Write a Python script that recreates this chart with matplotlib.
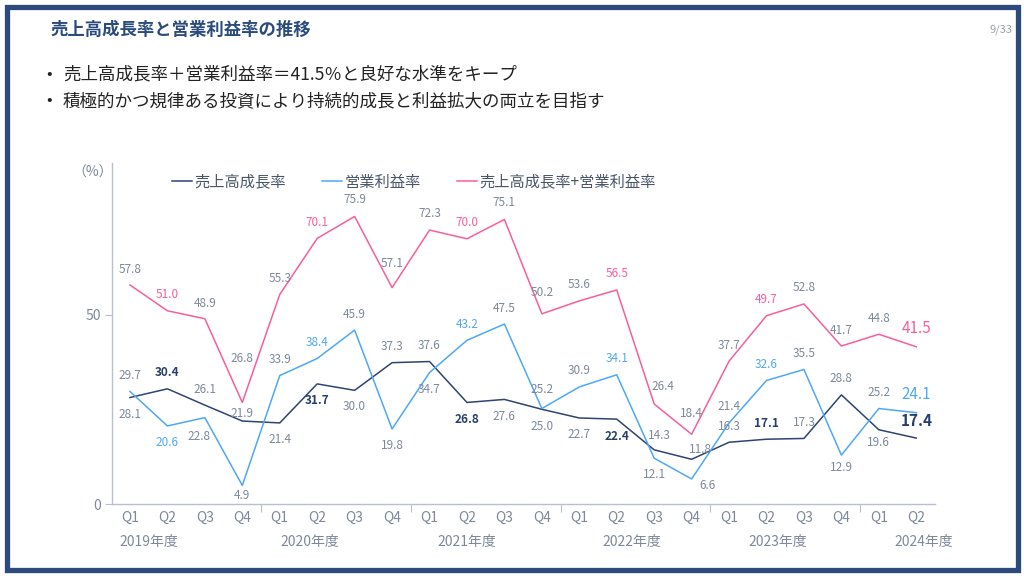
import matplotlib
matplotlib.use("Agg")
import matplotlib.pyplot as plt
from matplotlib.patches import Rectangle
from matplotlib.lines import Line2D
import matplotlib.transforms as mtransforms

plt.rcParams['font.family'] = ['Noto Sans CJK JP', 'DejaVu Sans']

# ---------------- data ----------------
quarters = ["Q1", "Q2", "Q3", "Q4",
            "Q1", "Q2", "Q3", "Q4",
            "Q1", "Q2", "Q3", "Q4",
            "Q1", "Q2", "Q3", "Q4",
            "Q1", "Q2", "Q3", "Q4",
            "Q1", "Q2"]
fiscal_years = ["2019年度", "2020年度", "2021年度", "2022年度", "2023年度", "2024年度"]
sales_growth = [28.1, 30.4, 26.1, 21.9, 21.4, 31.7, 30.0, 37.3, 37.6, 26.8, 27.6, 25.0,
                22.7, 22.4, 14.3, 11.8, 16.3, 17.1, 17.3, 28.8, 19.6, 17.4]
op_margin = [29.7, 20.6, 22.8, 4.9, 33.9, 38.4, 45.9, 19.8, 34.7, 43.2, 47.5, 25.2,
             30.9, 34.1, 12.1, 6.6, 21.4, 32.6, 35.5, 12.9, 25.2, 24.1]
total = [57.8, 51.0, 48.9, 26.8, 55.3, 70.1, 75.9, 57.1, 72.3, 70.0, 75.1, 50.2,
         53.6, 56.5, 26.4, 18.4, 37.7, 49.7, 52.8, 41.7, 44.8, 41.5]
series_names = ["売上高成長率", "営業利益率", "売上高成長率+営業利益率"]
title = "売上高成長率と営業利益率の推移"
bullets = ["売上高成長率＋営業利益率＝41.5％と良好な水準をキープ",
           "積極的かつ規律ある投資により持続的成長と利益拡大の両立を目指す"]

# ---------------- styles ----------------
C_NAVY = "#2e4472"
C_BLUE = "#4da8f7"
C_PINK = "#f75e9e"
C_GRAY = "#7d889a"
C_FRAME = "#2c4a7c"

# label offsets in pixels (dx, dy)
off_sales = [(0, -17), (0, 16), (0, 16), (0, 8), (0, -17), (0, -17), (0, -16), (0, 16),
             (0, 16), (0, -17), (0, -17), (0, -17), (0, -17), (0, -17), (5, 14), (9, 10),
             (0, 16), (0, 16), (0, 16), (0, 16), (0, -13), (0, 17)]
off_op = [(0, 16), (0, -17), (-6, -19), (0, -10), (0, 16), (0, 16), (0, 16), (0, -17),
          (0, -17), (0, 16), (0, 16), (0, 19), (0, 16), (0, 16), (0, -16), (16, -7),
          (0, 16), (0, 16), (0, 16), (0, -12), (0, 16), (0, 18)]
off_tot = [(0, 16), (0, 16), (0, 15), (0, 44), (0, 16), (0, 16), (0, 17), (0, 24),
           (0, 17), (0, 16), (0, 17), (0, 21), (0, 16), (0, 16), (9, 17), (0, 21),
           (0, 16), (0, 16), (0, 16), (0, 16), (0, 16), (0, 18)]
highlight = [1, 5, 9, 13, 17]

fig = plt.figure(figsize=(10.24, 5.76), dpi=100)
fig.patch.set_facecolor("white")

# frame
fig.patches.append(Rectangle((6.5 / 1024, 6.5 / 576), 1011 / 1024, 563 / 576,
                             transform=fig.transFigure, fill=False,
                             edgecolor=C_FRAME, linewidth=3.8, zorder=10))

fig.text(50 / 1024, 1 - 30 / 576, title, fontsize=12.5, fontweight="bold",
         color="#2b4b7d", ha="left", va="center")
fig.text(1012 / 1024, 1 - 30 / 576, "9/33", fontsize=8, color="#9aa1ab",
         ha="right", va="center")
for k, b in enumerate(bullets):
    yy = 1 - (74 + 27 * k) / 576
    fig.text(46 / 1024, yy, "•", fontsize=12, color="#222222", ha="left", va="center")
    fig.text(63 / 1024, yy, b, fontsize=12.6, color="#222222", ha="left", va="center")

ax = fig.add_axes([112 / 1024, (576 - 504) / 576, 823 / 1024, 341 / 576])
x = list(range(len(quarters)))
ax.plot(x, sales_growth, color=C_NAVY, lw=1.1)
ax.plot(x, op_margin, color=C_BLUE, lw=1.1)
ax.plot(x, total, color=C_PINK, lw=1.1)
ax.set_xlim(-0.48, 21.5)
ax.set_ylim(0, 90)

for s in ["top", "right"]:
    ax.spines[s].set_visible(False)
for s in ["left", "bottom"]:
    ax.spines[s].set_color("#b9c0cc")
    ax.spines[s].set_linewidth(1.0)

ax.set_yticks([0, 50])
ax.set_yticklabels(["0", "50"])
ax.tick_params(axis="y", length=5, width=0.8, color="#b9c0cc", labelcolor=C_GRAY,
               labelsize=10, pad=3)
ax.set_xticks(x)
ax.set_xticklabels(quarters)
ax.tick_params(axis="x", length=0, labelcolor=C_GRAY, labelsize=10, pad=5)
ax.set_xticks([3.5, 7.5, 11.5, 15.5, 19.5], minor=True)
ax.tick_params(axis="x", which="minor", length=6, width=0.8, color="#b9c0cc")

tr = mtransforms.blended_transform_factory(ax.transData, ax.transAxes)
fy_x = [0.5, 4.8, 9.0, 13.4, 17.3, 21.2]
for fx, fyl in zip(fy_x, fiscal_years):
    ax.text(fx, -0.112, fyl, transform=tr, fontsize=10, color=C_GRAY,
            ha="center", va="center")

fig.text(93 / 1024, 1 - 173 / 576, "（%）", fontsize=10, color=C_GRAY,
         ha="center", va="center")


def label(vals, offs, col_hi, bold_hi=False):
    n = len(vals)
    for i, (v, (dx, dy)) in enumerate(zip(vals, offs)):
        last = i == n - 1
        if last:
            col = col_hi
            fs = 11
            fw = "bold" if bold_hi else "normal"
        elif i in highlight:
            col = col_hi
            fs = 8.5
            fw = "bold" if bold_hi else "normal"
        else:
            col = C_GRAY
            fs = 8.5
            fw = "normal"
        ax.annotate(f"{v:.1f}", (i, v), xytext=(dx, dy), textcoords="offset pixels",
                    ha="center", va="center", fontsize=fs, color=col, fontweight=fw)


label(sales_growth, off_sales, "#263f6a", bold_hi=True)
label(op_margin, off_op, C_BLUE)
label(total, off_tot, C_PINK)

handles = [Line2D([], [], color=C_NAVY, lw=1.1),
           Line2D([], [], color=C_BLUE, lw=1.1),
           Line2D([], [], color=C_PINK, lw=1.1)]
fig.legend(handles, series_names, loc="center left",
           bbox_to_anchor=(172 / 1024, 1 - 182 / 576), ncol=3, frameon=False,
           handlelength=1.3, handletextpad=0.15, columnspacing=2.4,
           fontsize=11, labelcolor="#4a5568", borderaxespad=0, borderpad=0)

fig.savefig("out.png", dpi=100)
